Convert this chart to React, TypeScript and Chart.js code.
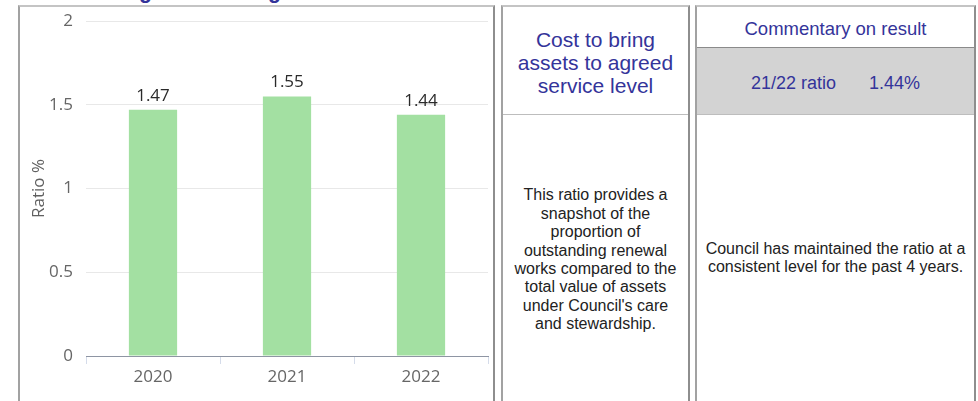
import React, { useEffect, useRef } from "react";
import { Chart, registerables } from "chart.js";

Chart.register(...registerables);

const categories = ["2020", "2021", "2022"];
const ratioValues = [1.47, 1.55, 1.44];
const yTickValues = [0, 0.5, 1, 1.5, 2];
const yAxisTitle = "Ratio %";

const pageTitle = "Cost to bring assets to agreed service level";
const measureLines = ["Cost to bring", "assets to agreed", "service level"];
const descriptionLines = [
  "This ratio provides a",
  "snapshot of the",
  "proportion of",
  "outstanding renewal",
  "works compared to the",
  "total value of assets",
  "under Council's care",
  "and stewardship.",
];
const commentaryHeader = "Commentary on result";
const resultLabel = "21/22 ratio";
const resultValue = "1.44%";
const commentaryLines = [
  "Council has maintained the ratio at a",
  "consistent level for the past 4 years.",
];

const BLUE = "#34349a";
const FONT = "Arial, 'Liberation Sans', sans-serif";

const valueLabelPlugin = {
  id: "valueLabels",
  afterDatasetsDraw(chart: any) {
    const { ctx } = chart;
    chart.data.datasets.forEach((ds: any, i: number) => {
      const meta = chart.getDatasetMeta(i);
      meta.data.forEach((el: any, j: number) => {
        const v = ds.data[j] as number;
        ctx.save();
        ctx.font = "17px 'Open Sans', sans-serif";
        ctx.fillStyle = "#2a2a2a";
        ctx.textAlign = "center";
        ctx.textBaseline = "middle";
        ctx.fillText(v.toFixed(2), el.x, el.y - 14);
        ctx.restore();
      });
    });
  },
};

function RatioChart() {
  const ref = useRef<HTMLCanvasElement | null>(null);
  useEffect(() => {
    if (!ref.current) return;
    const chart = new Chart(ref.current, {
      type: "bar",
      data: {
        labels: categories,
        datasets: [
          {
            data: ratioValues,
            backgroundColor: "#a3e0a2",
            borderWidth: 0,
            categoryPercentage: 1,
            barPercentage: 0.36,
          },
        ],
      },
      options: {
        responsive: false,
        animation: false,
        layout: { padding: { left: 0, right: 5, top: 14, bottom: 10.6 } },
        plugins: {
          legend: { display: false },
          tooltip: { enabled: false },
        },
        scales: {
          x: {
            offset: true,
            grid: {
              offset: true,
              drawOnChartArea: false,
              drawTicks: true,
              tickLength: 8,
              color: "#d5dcea",
            },
            border: { display: true, color: "#8e95a3", width: 1 },
            ticks: {
              color: "#666666",
              padding: 3,
              font: { family: "'Open Sans', sans-serif", size: 17 },
            },
          },
          y: {
            min: 0,
            max: 2,
            afterBuildTicks: (scale: any) => {
              scale.ticks = yTickValues.map((v) => ({ value: v }));
            },
            afterFit: (scale: any) => {
              scale.width = 66;
              scale.paddingTop = 0;
              scale.paddingBottom = 0;
            },
            grid: { color: "#e8e8e8", drawTicks: false },
            border: { display: false },
            ticks: {
              color: "#666666",
              padding: 13,
              font: { family: "'Open Sans', sans-serif", size: 17 },
              callback: (v: any) => String(v),
            },
            title: {
              display: true,
              text: yAxisTitle,
              color: "#606060",
              padding: { top: 9, bottom: 0 },
              font: { family: "'Open Sans', sans-serif", size: 17 },
            },
          },
        },
      },
      plugins: [valueLabelPlugin],
    });
    return () => chart.destroy();
  }, []);
  return (
    <canvas
      ref={ref}
      width={473}
      height={394}
      style={{ position: "absolute", left: 0, top: 0, width: 473, height: 394 }}
    />
  );
}

export default function App() {
  const cellBase: React.CSSProperties = {
    position: "absolute",
    top: 5,
    height: 420,
    boxSizing: "border-box",
    borderTop: "2px solid #c4c4c4",
    borderLeft: "2px solid #a2a2a2",
    borderRight: "2px solid #8e8e8e",
    borderBottom: "2px solid #8e8e8e",
    background: "#ffffff",
    fontFamily: FONT,
  };
  return (
    <div
      style={{
        position: "fixed",
        left: 0,
        top: 0,
        width: 978,
        height: 401,
        overflow: "hidden",
        background: "#ffffff",
        fontFamily: FONT,
      }}
    >
      <div
        style={{
          position: "absolute",
          left: 19.5,
          top: -21,
          fontSize: 21.3,
          lineHeight: "24px",
          fontWeight: "bold",
          color: BLUE,
          whiteSpace: "nowrap",
        }}
      >
        {pageTitle}
      </div>

      <div style={{ ...cellBase, left: 18, width: 477 }}>
        <RatioChart />
      </div>

      <div style={{ ...cellBase, left: 501, width: 189 }}>
        <div
          style={{
            height: 108,
            boxSizing: "border-box",
            borderBottom: "1px solid #bdbdbd",
            paddingTop: 4,
            display: "flex",
            alignItems: "center",
            justifyContent: "center",
            textAlign: "center",
            color: BLUE,
            fontSize: 21,
            lineHeight: "23.3px",
          }}
        >
          <div>
            {measureLines.map((l, i) => (
              <div key={i}>{l}</div>
            ))}
          </div>
        </div>
        <div
          style={{
            height: 290,
            display: "flex",
            alignItems: "center",
            justifyContent: "center",
            textAlign: "center",
            color: "#222222",
            fontSize: 16,
            lineHeight: "18.4px",
          }}
        >
          <div>
            {descriptionLines.map((l, i) => (
              <div key={i} style={{ whiteSpace: "nowrap" }}>
                {l}
              </div>
            ))}
          </div>
        </div>
      </div>

      <div style={{ ...cellBase, left: 695, width: 281 }}>
        <div
          style={{
            height: 41,
            boxSizing: "border-box",
            borderBottom: "1px solid #8a8a8a",
            paddingTop: 4,
            display: "flex",
            alignItems: "center",
            justifyContent: "center",
            color: BLUE,
            fontSize: 18.5,
          }}
        >
          {commentaryHeader}
        </div>
        <div
          style={{
            height: 67,
            boxSizing: "border-box",
            background: "#d3d3d3",
            borderBottom: "1px solid #bdbdbd",
            paddingTop: 5,
            display: "flex",
            alignItems: "center",
            justifyContent: "center",
            color: BLUE,
            fontSize: 18,
          }}
        >
          <span>{resultLabel}</span>
          <span style={{ display: "inline-block", width: 33 }} />
          <span>{resultValue}</span>
        </div>
        <div
          style={{
            height: 286,
            display: "flex",
            alignItems: "center",
            justifyContent: "center",
            textAlign: "center",
            color: "#222222",
            fontSize: 16,
            lineHeight: "18.4px",
          }}
        >
          <div>
            {commentaryLines.map((l, i) => (
              <div key={i} style={{ whiteSpace: "nowrap" }}>
                {l}
              </div>
            ))}
          </div>
        </div>
      </div>
    </div>
  );
}
